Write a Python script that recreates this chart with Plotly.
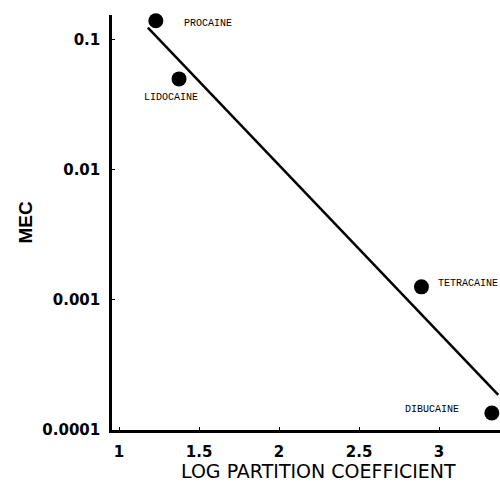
import math
import plotly.graph_objects as go

# Data
drugs = ["PROCAINE", "LIDOCAINE", "TETRACAINE", "DIBUCAINE"]
log_partition = [1.23, 1.375, 2.89, 3.33]
mec = [0.14, 0.050, 0.00126, 0.000135]

fit_x = [1.18, 3.37]
fit_y = [0.124, 0.000186]

y_tickvals = [0.0001, 0.001, 0.01, 0.1]
y_ticktext = ["0.0001", "0.001", "0.01", "0.1"]
x_tickvals = [1, 1.5, 2, 2.5, 3]
x_ticktext = ["1", "1.5", "2", "2.5", "3"]

x_title = "LOG PARTITION COEFFICIENT"
y_title = "MEC"

# label placement (style only)
label_style = {
    "PROCAINE": dict(xanchor="left", xshift=26, yshift=-3),
    "LIDOCAINE": dict(xanchor="center", xshift=-8, yshift=-19),
    "TETRACAINE": dict(xanchor="left", xshift=15, yshift=3),
    "DIBUCAINE": dict(xanchor="right", xshift=-31, yshift=4),
}

fig = go.Figure()
fig.add_trace(go.Scatter(x=fit_x, y=fit_y, mode="lines",
                         line=dict(color="black", width=2.5),
                         showlegend=False, hoverinfo="skip"))
fig.add_trace(go.Scatter(x=log_partition, y=mec, mode="markers",
                         marker=dict(color="black", size=15),
                         cliponaxis=False, showlegend=False))

for name, xv, yv in zip(drugs, log_partition, mec):
    st = label_style[name]
    fig.add_annotation(x=xv, y=math.log10(yv), text=name, showarrow=False,
                       xanchor=st["xanchor"], yanchor="middle",
                       xshift=st["xshift"], yshift=st["yshift"],
                       font=dict(family="Liberation Mono", size=10, color="black"))

# axis titles
fig.add_annotation(xref="paper", yref="paper", x=0.5, y=0, text=x_title,
                   showarrow=False, xanchor="center", yanchor="middle",
                   xshift=12, yshift=-41,
                   font=dict(family="DejaVu Sans", size=19, color="black"))
fig.add_annotation(xref="paper", yref="paper", x=0, y=0.5, text=y_title,
                   showarrow=False, xanchor="center", yanchor="middle",
                   xshift=-87, textangle=-90,
                   font=dict(family="Liberation Sans", size=19, color="black", weight="bold"))

axis_font = dict(family="DejaVu Sans", size=15, color="black", weight="bold")

fig.update_xaxes(range=[0.956, 3.381], tickvals=x_tickvals, ticktext=x_ticktext,
                 showgrid=False, zeroline=False, showline=True, automargin=False,
                 linecolor="black", linewidth=2.5, ticks="inside", ticklen=3,
                 tickcolor="black", tickfont=axis_font, ticklabelstandoff=6)
fig.update_yaxes(type="log", range=[-4, -0.81], tickvals=y_tickvals, ticktext=y_ticktext,
                 showgrid=False, zeroline=False, showline=True, automargin=False,
                 linecolor="black", linewidth=2.5, ticks="inside", ticklen=3,
                 tickcolor="black", tickfont=axis_font, ticklabelstandoff=6)

fig.update_layout(width=500, height=482,
                  margin=dict(l=112, r=0, t=15, b=52),
                  plot_bgcolor="white", paper_bgcolor="white")

fig.write_html("out.html", config={"displayModeBar": False},
               post_script="document.body.style.margin='0';document.body.style.overflow='hidden';")
